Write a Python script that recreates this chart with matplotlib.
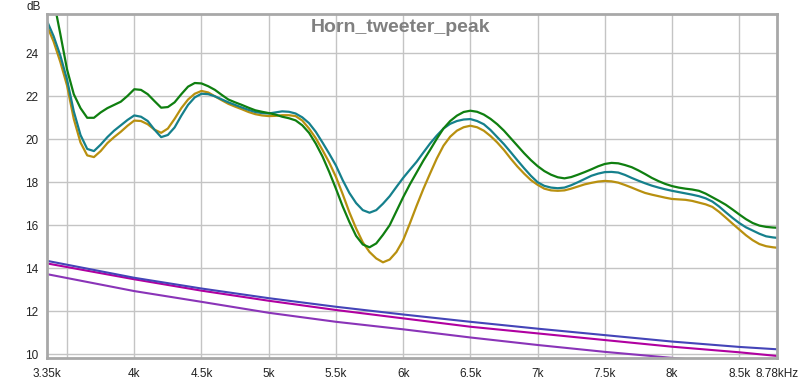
import matplotlib
matplotlib.use("Agg")
import matplotlib.pyplot as plt
import numpy as np

plt.rcParams['font.family'] = ['Liberation Sans', 'DejaVu Sans']

# frequencies (Hz) for the three measured curves: 50 Hz steps, then the end point
freq = list(range(3350, 8751, 50)) + [8780]

green_db = [27.6, 26.5, 24.9, 23.25, 22.1, 21.45, 21.0, 21.0, 21.25, 21.45,
            21.6, 21.75, 22.02, 22.33, 22.3, 22.1, 21.78, 21.47, 21.5, 21.72,
            22.1, 22.45, 22.62, 22.6, 22.47, 22.3, 22.07, 21.85, 21.72, 21.6,
            21.47, 21.35, 21.28, 21.22, 21.15, 21.05, 20.98, 20.88, 20.65, 20.3,
            19.8, 19.2, 18.48, 17.7, 16.88, 16.15, 15.5, 15.1, 14.97, 15.15,
            15.55, 16.0, 16.65, 17.3, 17.9, 18.45, 19.0, 19.5, 20.02, 20.5,
            20.85, 21.1, 21.27, 21.33, 21.28, 21.15, 20.95, 20.7, 20.4, 20.05,
            19.7, 19.35, 19.03, 18.75, 18.52, 18.35, 18.23, 18.18, 18.24, 18.35,
            18.47, 18.6, 18.74, 18.85, 18.9, 18.88, 18.8, 18.7, 18.55, 18.38,
            18.2, 18.05, 17.92, 17.82, 17.75, 17.7, 17.66, 17.6, 17.47, 17.3,
            17.13, 16.95, 16.73, 16.5, 16.28, 16.1, 15.98, 15.92, 15.89, 15.88]

teal_db = [25.52, 24.8, 23.9, 22.78, 21.3, 20.2, 19.55, 19.45, 19.75, 20.1,
           20.4, 20.65, 20.9, 21.11, 21.05, 20.85, 20.45, 20.1, 20.2, 20.55,
           21.1, 21.6, 21.95, 22.12, 22.1, 22.0, 21.86, 21.72, 21.6, 21.48,
           21.37, 21.27, 21.22, 21.2, 21.25, 21.3, 21.28, 21.2, 21.02, 20.75,
           20.35, 19.85, 19.33, 18.78, 18.1, 17.5, 17.03, 16.7, 16.58, 16.7,
           17.0, 17.35, 17.78, 18.2, 18.58, 18.95, 19.38, 19.8, 20.17, 20.5,
           20.72, 20.85, 20.92, 20.94, 20.85, 20.7, 20.43, 20.1, 19.77, 19.4,
           19.02, 18.65, 18.3, 18.0, 17.83, 17.75, 17.72, 17.75, 17.86, 18.0,
           18.15, 18.3, 18.4, 18.47, 18.48, 18.45, 18.34, 18.2, 18.07, 17.95,
           17.84, 17.75, 17.67, 17.6, 17.54, 17.48, 17.42, 17.35, 17.25, 17.1,
           16.87, 16.6, 16.34, 16.1, 15.9, 15.75, 15.6, 15.48, 15.43, 15.41]

gold_db = [25.3, 24.55, 23.6, 22.5, 20.95, 19.85, 19.25, 19.17, 19.45, 19.82,
           20.1, 20.35, 20.63, 20.87, 20.85, 20.7, 20.45, 20.3, 20.5, 20.95,
           21.45, 21.85, 22.12, 22.25, 22.18, 22.0, 21.82, 21.65, 21.52, 21.4,
           21.27, 21.17, 21.11, 21.08, 21.09, 21.12, 21.12, 21.08, 20.87, 20.5,
           20.05, 19.5, 18.92, 18.25, 17.45, 16.6, 15.85, 15.2, 14.75, 14.45,
           14.27, 14.4, 14.75, 15.3, 16.08, 16.9, 17.68, 18.4, 19.1, 19.7,
           20.12, 20.4, 20.56, 20.63, 20.56, 20.4, 20.15, 19.85, 19.5, 19.1,
           18.73, 18.4, 18.1, 17.88, 17.7, 17.62, 17.6, 17.62, 17.7, 17.8,
           17.9, 17.97, 18.03, 18.06, 18.04, 17.98, 17.87, 17.75, 17.62, 17.5,
           17.42, 17.35, 17.28, 17.22, 17.2, 17.18, 17.13, 17.05, 16.97, 16.85,
           16.62, 16.35, 16.07, 15.8, 15.53, 15.3, 15.12, 15.02, 14.97, 14.95]

# the three smooth falling lines
line_freq = [3350, 4000, 4500, 5000, 5500, 6000, 6500, 7000, 7500, 8000, 8500, 8780]
blue_db = [14.34, 13.55, 13.05, 12.6, 12.2, 11.84, 11.5, 11.18, 10.88, 10.58, 10.33, 10.22]
magenta_db = [14.22, 13.48, 12.95, 12.48, 12.05, 11.66, 11.27, 10.96, 10.65, 10.34, 10.08, 9.91]
purple_db = [13.72, 12.93, 12.43, 11.92, 11.5, 11.15, 10.77, 10.42, 10.1, 9.82, 9.55, 9.42]

xtick_vals = [3350, 4000, 4500, 5000, 5500, 6000, 6500, 7000, 7500, 8000, 8500, 8780]
xtick_labels = ["3.35k", "4k", "4.5k", "5k", "5.5k", "6k", "6.5k", "7k", "7.5k", "8k", "8.5k", "8.78kHz"]
ytick_vals = [10, 12, 14, 16, 18, 20, 22, 24]

fig = plt.figure(figsize=(8, 3.8), dpi=100)
ax = fig.add_axes([0.0586, 0.0571, 0.9125, 0.9053])

ax.plot(line_freq, purple_db, color="#8a34b8", lw=1.5)
ax.plot(line_freq, magenta_db, color="#b000a0", lw=1.5)
ax.plot(line_freq, blue_db, color="#4444b8", lw=1.5)
ax.plot(freq, gold_db, color="#b8900f", lw=1.6)
ax.plot(freq, teal_db, color="#15808c", lw=1.6)
ax.plot(freq, green_db, color="#0f7f10", lw=1.6)

ax.set_xlim(3350, 8780)
ax.set_ylim(9.8, 25.82)

# vertical grid every 500 Hz, labels only at listed ticks
for g in np.arange(3500, 8600, 500):
    ax.axvline(g, color="#c4c4c4", lw=1, zorder=0)
for g in ytick_vals:
    ax.axhline(g, color="#c4c4c4", lw=1, zorder=0)

ax.set_xticks(xtick_vals)
ax.set_xticklabels(xtick_labels)
ax.set_yticks(ytick_vals)
ax.tick_params(length=0, labelsize=8.5, colors="#222222", pad=6)
ax.tick_params(axis="x", pad=7)

for s in ax.spines.values():
    s.set_color("#a8a8a8")
    s.set_linewidth(2)

fig.text(400 / 800, 1 - 27 / 380, "Horn_tweeter_peak", ha="center", va="center",
         fontsize=14, fontweight="bold", color="#808080")
fig.text(34 / 800, 1 - 7 / 380, "dB", ha="center", va="center", fontsize=8.5, color="#222222")

plt.savefig("out.png", dpi=100)
